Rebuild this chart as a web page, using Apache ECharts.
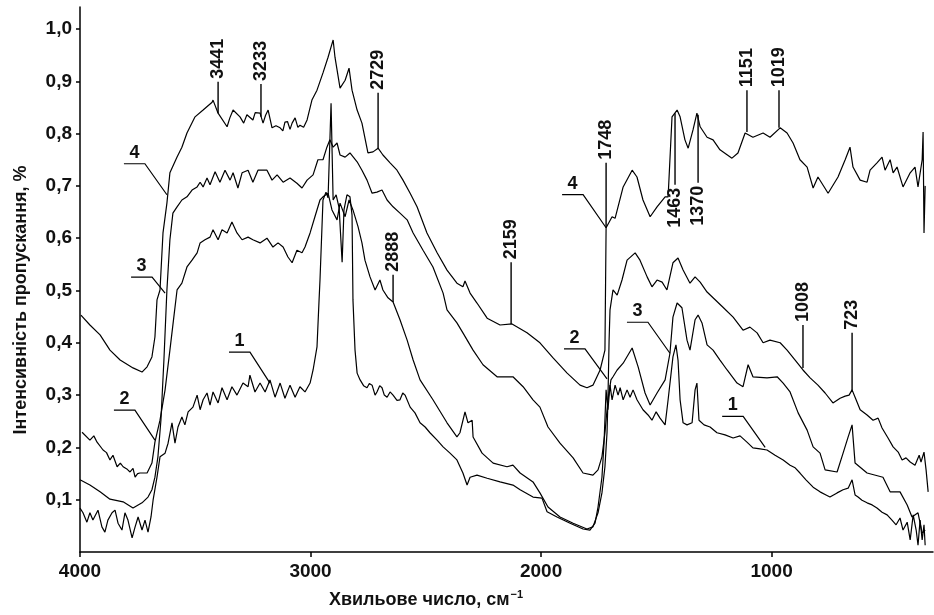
<!DOCTYPE html>
<html>
<head>
<meta charset="utf-8">
<script src="https://cdn.jsdelivr.net/npm/echarts@6/dist/echarts.min.js"></script>
<style>
  html, body { margin: 0; padding: 0; background: #fff; }
  #main { width: 934px; height: 615px; }
</style>
</head>
<body>
<div id="main"></div>
<script>
// спектри: [хвильове число, пропускання]
var curve1 = [[4000,0.084],[3987,0.075],[3970,0.057],[3957,0.075],[3944,0.061],[3922,0.080],[3905,0.048],[3892,0.038],[3879,0.061],[3861,0.075],[3848,0.080],[3835,0.055],[3818,0.042],[3805,0.075],[3792,0.061],[3774,0.027],[3761,0.048],[3748,0.067],[3731,0.042],[3718,0.061],[3705,0.038],[3692,0.067],[3683,0.099],[3666,0.143],[3653,0.182],[3631,0.189],[3618,0.208],[3601,0.247],[3588,0.208],[3575,0.239],[3558,0.258],[3545,0.243],[3531,0.268],[3510,0.277],[3492,0.300],[3479,0.272],[3466,0.291],[3449,0.304],[3436,0.281],[3423,0.306],[3401,0.285],[3384,0.314],[3362,0.291],[3341,0.316],[3319,0.300],[3293,0.323],[3271,0.316],[3263,0.338],[3241,0.306],[3219,0.323],[3197,0.306],[3176,0.329],[3154,0.296],[3132,0.323],[3111,0.294],[3089,0.319],[3067,0.296],[3046,0.316],[3024,0.306],[3002,0.323],[2989,0.348],[2972,0.392],[2963,0.482],[2959,0.520],[2946,0.673],[2933,0.688],[2924,0.677],[2911,0.858],[2902,0.673],[2889,0.683],[2876,0.658],[2863,0.554],[2855,0.654],[2842,0.683],[2829,0.679],[2820,0.644],[2816,0.482],[2807,0.386],[2798,0.342],[2785,0.329],[2770,0.318],[2755,0.314],[2745,0.322],[2733,0.319],[2720,0.300],[2712,0.306],[2700,0.318],[2690,0.314],[2680,0.300],[2668,0.296],[2655,0.306],[2642,0.300],[2625,0.290],[2612,0.291],[2600,0.304],[2590,0.300],[2568,0.277],[2547,0.266],[2525,0.247],[2503,0.239],[2482,0.228],[2451,0.214],[2425,0.201],[2395,0.189],[2365,0.176],[2339,0.151],[2321,0.128],[2308,0.143],[2278,0.147],[2234,0.141],[2178,0.134],[2122,0.128],[2091,0.119],[2035,0.105],[1996,0.103],[1974,0.077],[1931,0.067],[1874,0.055],[1818,0.044],[1788,0.042],[1766,0.055],[1753,0.086],[1736,0.143],[1727,0.208],[1718,0.310],[1710,0.272],[1701,0.319],[1692,0.291],[1679,0.319],[1666,0.300],[1657,0.314],[1644,0.291],[1627,0.310],[1614,0.296],[1601,0.310],[1584,0.291],[1558,0.272],[1536,0.262],[1519,0.252],[1501,0.268],[1484,0.256],[1462,0.243],[1449,0.291],[1428,0.373],[1415,0.396],[1406,0.367],[1397,0.291],[1384,0.247],[1367,0.243],[1345,0.247],[1332,0.310],[1324,0.323],[1315,0.252],[1293,0.243],[1267,0.239],[1237,0.228],[1202,0.224],[1167,0.218],[1137,0.222],[1107,0.210],[1081,0.199],[1050,0.197],[1020,0.195],[985,0.185],[950,0.176],[920,0.166],[898,0.161],[877,0.151],[851,0.138],[820,0.124],[790,0.115],[764,0.109],[747,0.105],[716,0.113],[690,0.119],[668,0.122],[651,0.138],[638,0.109],[625,0.105],[608,0.099],[586,0.094],[564,0.090],[543,0.084],[521,0.076],[499,0.071],[478,0.061],[460,0.052],[443,0.065],[430,0.042],[412,0.057],[399,0.023],[386,0.071],[373,0.042],[365,0.013],[356,0.061],[347,0.023],[339,0.052],[334,0.013]];

var curve2 = [[3991,0.229],[3957,0.214],[3940,0.222],[3926,0.210],[3900,0.195],[3885,0.190],[3870,0.176],[3857,0.185],[3839,0.163],[3825,0.170],[3813,0.163],[3795,0.158],[3783,0.153],[3770,0.160],[3761,0.143],[3750,0.150],[3740,0.151],[3709,0.151],[3688,0.170],[3675,0.210],[3653,0.252],[3631,0.310],[3610,0.386],[3592,0.453],[3579,0.501],[3558,0.514],[3536,0.545],[3514,0.558],[3492,0.572],[3479,0.591],[3458,0.597],[3436,0.602],[3423,0.616],[3401,0.597],[3384,0.616],[3362,0.610],[3341,0.631],[3319,0.610],[3297,0.597],[3271,0.602],[3250,0.597],[3219,0.591],[3189,0.600],[3163,0.583],[3141,0.591],[3119,0.583],[3098,0.564],[3080,0.553],[3059,0.577],[3037,0.572],[3024,0.583],[3002,0.610],[2981,0.641],[2959,0.673],[2946,0.679],[2924,0.686],[2907,0.654],[2885,0.635],[2872,0.667],[2850,0.641],[2833,0.673],[2816,0.654],[2794,0.622],[2777,0.591],[2764,0.558],[2742,0.526],[2720,0.501],[2699,0.520],[2686,0.501],[2664,0.486],[2642,0.478],[2612,0.444],[2581,0.405],[2555,0.367],[2525,0.329],[2469,0.291],[2408,0.247],[2365,0.220],[2352,0.228],[2330,0.268],[2317,0.247],[2299,0.252],[2295,0.220],[2256,0.189],[2208,0.170],[2148,0.163],[2122,0.166],[2091,0.151],[2035,0.134],[2005,0.113],[1970,0.086],[1918,0.067],[1861,0.055],[1801,0.044],[1775,0.048],[1753,0.075],[1736,0.113],[1723,0.163],[1714,0.228],[1710,0.291],[1705,0.405],[1701,0.463],[1688,0.501],[1670,0.491],[1649,0.520],[1627,0.558],[1592,0.572],[1571,0.558],[1540,0.526],[1519,0.507],[1497,0.520],[1475,0.516],[1454,0.501],[1428,0.553],[1406,0.562],[1384,0.539],[1354,0.514],[1332,0.526],[1310,0.516],[1280,0.497],[1254,0.486],[1211,0.468],[1167,0.449],[1124,0.424],[1094,0.430],[1063,0.419],[1037,0.400],[1007,0.405],[963,0.400],[933,0.386],[898,0.367],[864,0.348],[833,0.333],[799,0.319],[768,0.304],[734,0.285],[703,0.294],[681,0.298],[664,0.300],[651,0.310],[638,0.296],[616,0.272],[586,0.262],[560,0.252],[538,0.256],[521,0.237],[495,0.218],[473,0.201],[451,0.191],[434,0.176],[417,0.180],[399,0.172],[378,0.166],[360,0.185],[352,0.172],[339,0.191],[330,0.157],[321,0.115]];

var curve3 = [[4000,0.138],[3957,0.128],[3913,0.115],[3870,0.101],[3813,0.096],[3770,0.084],[3731,0.094],[3705,0.105],[3688,0.119],[3675,0.143],[3662,0.182],[3649,0.252],[3636,0.367],[3623,0.501],[3610,0.597],[3597,0.648],[3579,0.660],[3558,0.673],[3536,0.679],[3514,0.692],[3492,0.698],[3479,0.707],[3466,0.698],[3449,0.715],[3436,0.702],[3414,0.727],[3393,0.707],[3371,0.730],[3349,0.711],[3336,0.725],[3315,0.696],[3297,0.725],[3271,0.730],[3250,0.707],[3228,0.730],[3189,0.730],[3167,0.711],[3145,0.721],[3119,0.707],[3089,0.715],[3059,0.705],[3037,0.696],[3015,0.711],[2989,0.721],[2968,0.750],[2946,0.750],[2929,0.774],[2916,0.788],[2902,0.774],[2885,0.782],[2872,0.759],[2850,0.755],[2829,0.763],[2798,0.746],[2777,0.730],[2755,0.711],[2733,0.686],[2712,0.688],[2690,0.692],[2668,0.673],[2642,0.660],[2612,0.648],[2581,0.635],[2555,0.610],[2512,0.577],[2469,0.545],[2425,0.495],[2408,0.463],[2365,0.438],[2339,0.419],[2295,0.386],[2252,0.358],[2191,0.335],[2122,0.335],[2078,0.316],[2035,0.291],[2005,0.277],[1970,0.239],[1918,0.208],[1861,0.180],[1818,0.151],[1775,0.147],[1753,0.157],[1736,0.182],[1723,0.228],[1710,0.291],[1697,0.329],[1688,0.335],[1670,0.348],[1644,0.361],[1605,0.390],[1579,0.354],[1549,0.304],[1527,0.281],[1497,0.304],[1462,0.329],[1441,0.380],[1428,0.449],[1410,0.476],[1389,0.467],[1367,0.405],[1354,0.386],[1332,0.444],[1319,0.453],[1302,0.438],[1280,0.396],[1254,0.386],[1224,0.367],[1193,0.348],[1150,0.323],[1124,0.316],[1102,0.358],[1081,0.335],[1020,0.333],[976,0.335],[950,0.323],[920,0.306],[885,0.266],[846,0.233],[820,0.201],[790,0.189],[768,0.157],[716,0.153],[690,0.189],[668,0.220],[651,0.243],[638,0.170],[586,0.151],[517,0.143],[486,0.115],[443,0.115],[412,0.090],[391,0.067],[365,0.075],[347,0.036],[334,0.042]];

var curve4 = [[3996,0.453],[3957,0.434],[3913,0.415],[3870,0.386],[3826,0.367],[3770,0.352],[3731,0.344],[3709,0.354],[3688,0.373],[3675,0.411],[3666,0.482],[3653,0.501],[3640,0.610],[3623,0.667],[3610,0.725],[3579,0.755],[3558,0.774],[3536,0.801],[3501,0.832],[3466,0.845],[3427,0.860],[3423,0.864],[3401,0.839],[3362,0.813],[3350,0.830],[3336,0.845],[3306,0.832],[3290,0.820],[3276,0.836],[3250,0.826],[3240,0.840],[3219,0.839],[3206,0.820],[3195,0.835],[3184,0.845],[3167,0.811],[3150,0.815],[3132,0.811],[3120,0.805],[3111,0.822],[3100,0.823],[3089,0.808],[3080,0.820],[3067,0.830],[3055,0.812],[3046,0.816],[3030,0.812],[3015,0.826],[2994,0.864],[2972,0.883],[2946,0.916],[2924,0.946],[2902,0.979],[2894,0.946],[2872,0.887],[2850,0.902],[2833,0.925],[2820,0.883],[2798,0.845],[2777,0.820],[2751,0.763],[2729,0.765],[2707,0.772],[2686,0.759],[2655,0.744],[2625,0.730],[2599,0.711],[2568,0.686],[2538,0.660],[2495,0.610],[2451,0.572],[2408,0.539],[2365,0.514],[2339,0.507],[2330,0.518],[2308,0.495],[2278,0.476],[2234,0.447],[2178,0.434],[2126,0.436],[2061,0.419],[2005,0.400],[1948,0.371],[1887,0.342],[1831,0.319],[1801,0.314],[1775,0.319],[1744,0.348],[1723,0.386],[1718,0.620],[1692,0.641],[1679,0.638],[1644,0.698],[1605,0.730],[1584,0.717],[1558,0.673],[1527,0.641],[1497,0.660],[1462,0.679],[1449,0.679],[1432,0.832],[1410,0.845],[1397,0.832],[1376,0.788],[1362,0.772],[1341,0.807],[1324,0.839],[1310,0.813],[1280,0.793],[1254,0.788],[1224,0.769],[1172,0.753],[1146,0.763],[1115,0.801],[1081,0.793],[1037,0.801],[1007,0.793],[963,0.811],[933,0.801],[907,0.782],[877,0.750],[846,0.736],[820,0.696],[799,0.717],[755,0.686],[712,0.717],[681,0.750],[660,0.774],[647,0.736],[616,0.711],[586,0.707],[573,0.730],[543,0.744],[521,0.755],[508,0.730],[486,0.750],[473,0.725],[456,0.736],[430,0.698],[399,0.725],[378,0.736],[365,0.698],[347,0.750],[343,0.803],[339,0.610],[334,0.700]];

// підписи смуг
var peakText = ['3441', '3233', '2729', '2888', '2159', '1748', '1463', '1370', '1151', '1019', '1008', '723'];
var peakWave = [3401, 3215, 2707, 2642, 2130, 1718, 1419, 1319, 1107, 968, 864, 651];
var peakFrom = [0.839, 0.832, 0.772, 0.478, 0.436, 0.620, 0.839, 0.836, 0.803, 0.811, 0.352, 0.308];
var peakTo = [0.899, 0.895, 0.878, 0.530, 0.554, 0.744, 0.702, 0.706, 0.883, 0.883, 0.434, 0.419];

// номери кривих
var curveNames = ['4', '3', '2', '1', '4', '2', '3', '1'];
var curveAnchors = [[3623, 0.683], [3631, 0.495], [3675, 0.214], [3176, 0.323], [1718, 0.620], [1714, 0.331], [1441, 0.380], [1028, 0.200]];
var leaderDx = [22, 13, 20, 20, 23, 22, 22, 22];
var leaderDy = [31, 16, 30, 31, 33, 30, 31, 31];

var yTicks = [0.1, 0.2, 0.3, 0.4, 0.5, 0.6, 0.7, 0.8, 0.9, 1.0];
var xTicks = [1000, 2000, 3000, 4000];

var FONT = '"Liberation Sans", Arial, sans-serif';

var myChart = echarts.init(document.getElementById('main'));

function lineSeries(name, data) {
    return {
        name: name,
        type: 'line',
        data: data,
        showSymbol: false,
        silent: true,
        lineStyle: { color: '#000', width: 1.2 },
        z: 3
    };
}

var option = {
    animation: false,
    backgroundColor: '#fff',
    grid: { left: 80, right: 1, top: 7, bottom: 63 },
    xAxis: {
        type: 'value',
        inverse: true,
        min: 300,
        max: 4000,
        splitLine: { show: false },
        axisLine: { lineStyle: { color: '#000', width: 1.5 } },
        axisTick: { customValues: xTicks, length: 5, lineStyle: { color: '#000', width: 1.5 } },
        axisLabel: {
            customValues: xTicks,
            color: '#111',
            fontFamily: FONT,
            fontWeight: 'bold',
            fontSize: 19,
            margin: 10,
            formatter: function (v) {
                return String(v);
            }
        }
    },
    yAxis: {
        type: 'value',
        min: 0,
        max: 1.042,
        splitLine: { show: false },
        axisLine: { show: true, lineStyle: { color: '#000', width: 1.5 } },
        axisTick: { show: true, customValues: yTicks, length: 4, lineStyle: { color: '#000', width: 1.5 } },
        axisLabel: {
            customValues: yTicks,
            color: '#111',
            fontFamily: FONT,
            fontWeight: 'bold',
            fontSize: 19,
            margin: 8,
            formatter: function (v) {
                return v.toFixed(1).replace('.', ',');
            }
        }
    },
    series: [
        lineSeries('1', curve1),
        lineSeries('2', curve2),
        lineSeries('3', curve3),
        lineSeries('4', curve4)
    ]
};

myChart.setOption(option);

// виноски та підписи малюються поверх, у пікселях з координат даних
function px(v, t) {
    return myChart.convertToPixel({ xAxisIndex: 0, yAxisIndex: 0 }, [v, t]);
}

var graphics = [];

peakText.forEach(function (txt, i) {
    var a = px(peakWave[i], peakFrom[i]);
    var b = px(peakWave[i], peakTo[i]);
    var up = peakTo[i] > peakFrom[i];
    graphics.push({
        type: 'line',
        silent: true,
        shape: { x1: a[0], y1: a[1], x2: b[0], y2: b[1] },
        style: { stroke: '#000', lineWidth: 1.4 },
        z: 10
    });
    graphics.push({
        type: 'text',
        silent: true,
        x: b[0],
        y: up ? b[1] - 3 : b[1] + 3,
        rotation: Math.PI / 2,
        style: {
            text: txt,
            fill: '#111',
            font: 'bold 18px ' + FONT,
            align: up ? 'left' : 'right',
            verticalAlign: 'middle'
        },
        z: 10
    });
});

curveNames.forEach(function (txt, i) {
    var a = px(curveAnchors[i][0], curveAnchors[i][1]);
    var ex = a[0] - leaderDx[i], ey = a[1] - leaderDy[i];
    graphics.push({
        type: 'polyline',
        silent: true,
        shape: { points: [[a[0], a[1]], [ex, ey], [ex - 21, ey]] },
        style: { stroke: '#000', lineWidth: 1.2, fill: null },
        z: 10
    });
    graphics.push({
        type: 'text',
        silent: true,
        x: ex - 10.5,
        y: ey - 2,
        style: {
            text: txt,
            fill: '#111',
            font: 'bold 18px ' + FONT,
            align: 'center',
            verticalAlign: 'bottom'
        },
        z: 10
    });
});

// назви осей
graphics.push({
    type: 'text',
    silent: true,
    x: 21,
    y: 300,
    rotation: Math.PI / 2,
    style: {
        text: 'Інтенсивність пропускання, %',
        fill: '#111',
        font: 'bold 18px ' + FONT,
        align: 'center',
        verticalAlign: 'middle'
    }
});
graphics.push({
    type: 'text',
    silent: true,
    x: 426,
    y: 600,
    style: {
        text: '{a|Хвильове число, см}{s|−1}',
        align: 'center',
        verticalAlign: 'middle',
        rich: {
            a: { fill: '#111', fontFamily: FONT, fontWeight: 'bold', fontSize: 18 },
            s: { fill: '#111', fontFamily: FONT, fontWeight: 'bold', fontSize: 11, padding: [0, 0, 10, 1] }
        }
    }
});

myChart.setOption({ graphic: graphics });

window.addEventListener('resize', function () {
    myChart.resize();
});
</script>
</body>
</html>
